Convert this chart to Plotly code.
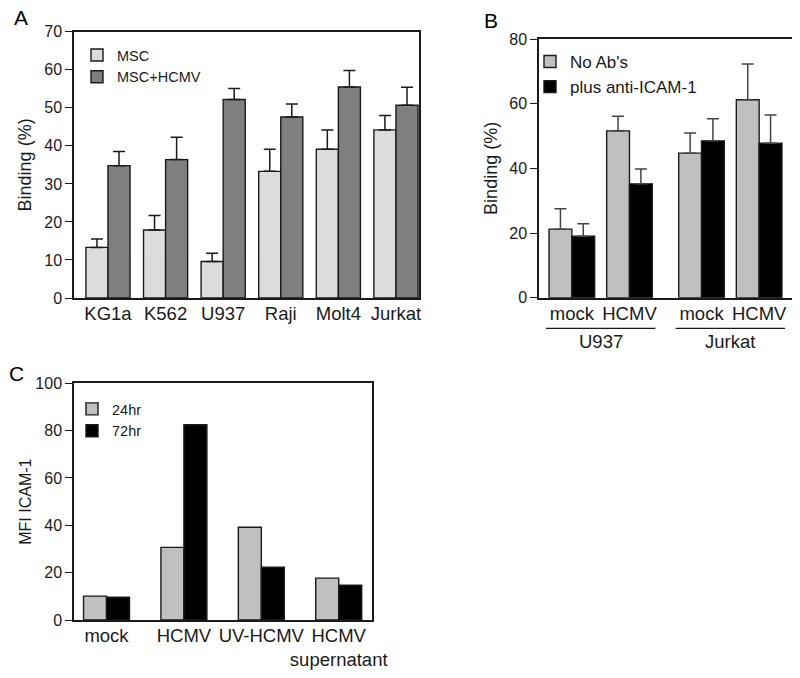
import plotly.graph_objects as go

W, H = 800, 678
OFF = 8  # the page body margin shifts the figure by this many pixels

# ---------------- data ----------------
# Panel A
a_cells = ["KG1a", "K562", "U937", "Raji", "Molt4", "Jurkat"]
a_msc = [13.3, 17.9, 9.6, 33.3, 39.1, 44.2]
a_msc_err = [2.2, 3.8, 2.2, 5.8, 5.1, 3.8]
a_hcmv = [34.8, 36.4, 52.2, 47.6, 55.5, 50.7]
a_hcmv_err = [3.7, 5.9, 2.9, 3.4, 4.3, 4.7]
a_yticks = [0, 10, 20, 30, 40, 50, 60, 70]

# Panel B
b_cells = ["U937", "Jurkat"]
b_conditions = ["mock", "HCMV"]
b_noab = [21.2, 51.6, 44.7, 61.2]
b_noab_err = [6.3, 4.5, 6.2, 11.1]
b_anti = [19.0, 35.2, 48.5, 47.8]
b_anti_err = [3.9, 4.6, 6.8, 8.7]
b_yticks = [0, 20, 40, 60, 80]

# Panel C
c_treatments = ["mock", "HCMV", "UV-HCMV", "HCMV<br>supernatant"]
c_24hr = [10.1, 30.7, 39.2, 17.7]
c_72hr = [9.6, 82.5, 22.3, 14.7]
c_yticks = [0, 20, 40, 60, 80, 100]

# ---------------- styling helpers ----------------
FONT = "Liberation Sans, Arial, Helvetica, sans-serif"
INK = "#1a1a1a"


def px_x(x):
    return (x - OFF) / W


def px_y(y):
    return 1 - (y - OFF) / H


fig = go.Figure()

# ---- Panel A ----
wa = 0.383
fig.add_trace(go.Bar(
    x=a_cells, y=a_msc, name="MSC", xaxis="x", yaxis="y",
    width=wa, offset=-wa,
    marker=dict(color="#dcdcdc", line=dict(color=INK, width=1.4)),
    error_y=dict(type="data", symmetric=False, array=a_msc_err,
                 arrayminus=[0] * len(a_msc), color=INK, thickness=1.5, width=6),
    legend="legend",
))
fig.add_trace(go.Bar(
    x=a_cells, y=a_hcmv, name="MSC+HCMV", xaxis="x", yaxis="y",
    width=wa, offset=0,
    marker=dict(color="#7f7f7f", line=dict(color=INK, width=1.4)),
    error_y=dict(type="data", symmetric=False, array=a_hcmv_err,
                 arrayminus=[0] * len(a_hcmv), color=INK, thickness=1.5, width=6),
    legend="legend",
))

# ---- Panel B ----
b_gap = 0.25
b_pos = [ci * (len(b_conditions) + b_gap) + k
         for ci in range(len(b_cells)) for k in range(len(b_conditions))]
b_ticktext = [c for _ in b_cells for c in b_conditions]
wb = 0.396
fig.add_trace(go.Bar(
    x=b_pos, y=b_noab, name="No Ab's", xaxis="x2", yaxis="y2",
    width=wb, offset=-wb,
    marker=dict(color="#c0c0c0", line=dict(color=INK, width=1.4)),
    error_y=dict(type="data", symmetric=False, array=b_noab_err,
                 arrayminus=[0] * len(b_noab), color="#444444", thickness=1.5, width=6),
    legend="legend2",
))
fig.add_trace(go.Bar(
    x=b_pos, y=b_anti, name="plus anti-ICAM-1", xaxis="x2", yaxis="y2",
    width=wb, offset=0,
    marker=dict(color="#000000", line=dict(color=INK, width=1.4)),
    error_y=dict(type="data", symmetric=False, array=b_anti_err,
                 arrayminus=[0] * len(b_anti), color="#444444", thickness=1.5, width=6),
    legend="legend2",
))

# ---- Panel C ----
wc = 0.297
fig.add_trace(go.Bar(
    x=c_treatments, y=c_24hr, name="24hr", xaxis="x3", yaxis="y3",
    width=wc, offset=-wc,
    marker=dict(color="#c0c0c0", line=dict(color=INK, width=1.4)),
    legend="legend3",
))
fig.add_trace(go.Bar(
    x=c_treatments, y=c_72hr, name="72hr", xaxis="x3", yaxis="y3",
    width=wc, offset=0,
    marker=dict(color="#000000", line=dict(color=INK, width=1.4)),
    legend="legend3",
))

# ---------------- axes ----------------
common_x = dict(showline=True, mirror=True, linecolor=INK, linewidth=1.5,
                ticks="", showgrid=False, zeroline=False, automargin=False,
                tickangle=0, ticklabelstandoff=-2,
                tickfont=dict(size=18.5, color=INK, family=FONT))
common_y = dict(showline=True, mirror=True, linecolor=INK, linewidth=1.5,
                ticks="outside", ticklen=7, tickwidth=1.3, tickcolor=INK,
                showgrid=False, zeroline=False, automargin=False,
                tickfont=dict(size=16, color=INK, family=FONT))

fig.update_layout(
    xaxis=dict(common_x, domain=[px_x(74), px_x(419)], anchor="y",
               range=[-0.59, 5.40], type="category"),
    yaxis=dict(common_y, domain=[px_y(298), px_y(31.8)], anchor="x",
               range=[0, 70], tickvals=a_yticks,
               title=dict(text="Binding (%)", font=dict(size=18, color=INK, family=FONT),
                          standoff=8)),
    xaxis2=dict(common_x, domain=[px_x(539), px_x(792)], anchor="y2",
                range=[-0.57, 3.82], tickvals=b_pos, ticktext=b_ticktext),
    yaxis2=dict(common_y, domain=[px_y(297.7), px_y(39)], anchor="x2",
                range=[0, 80], tickvals=b_yticks,
                title=dict(text="Binding (%)", font=dict(size=18, color=INK, family=FONT),
                           standoff=7)),
    xaxis3=dict(common_x, domain=[px_x(74), px_x(372)], anchor="y3",
                range=[-0.42, 3.43], type="category"),
    yaxis3=dict(common_y, domain=[px_y(620), px_y(383.3)], anchor="x3",
                range=[0, 100], tickvals=c_yticks,
                title=dict(text="MFI ICAM-1", font=dict(size=16, color=INK, family=FONT),
                           standoff=0)),
)

# ---------------- legends ----------------
leg_common = dict(xanchor="left", yanchor="top", bgcolor="rgba(0,0,0,0)",
                  borderwidth=0, itemclick=False, itemdoubleclick=False)
fig.update_layout(
    legend=dict(leg_common, x=px_x(77), y=px_y(39),
                font=dict(size=14.5, color=INK, family=FONT)),
    legend2=dict(leg_common, x=px_x(530), y=px_y(44),
                 font=dict(size=17, color=INK, family=FONT)),
    legend3=dict(leg_common, x=px_x(72), y=px_y(393),
                 font=dict(size=14.5, color=INK, family=FONT)),
)

# ---------------- panel letters, group labels ----------------
annotations = []
for letter, lx, ly in [("A", 21, 17), ("B", 491, 20), ("C", 16, 373)]:
    annotations.append(dict(text=letter, x=px_x(lx), y=px_y(ly), xref="paper", yref="paper",
                            xanchor="center", yanchor="middle", showarrow=False,
                            font=dict(size=21, color="#000", family=FONT)))

shapes = []
n_cond = len(b_conditions)
for ci, cell in enumerate(b_cells):
    group = b_pos[ci * n_cond:(ci + 1) * n_cond]
    shapes.append(dict(type="line", xref="x2", yref="paper",
                       x0=group[0] - 0.45, x1=group[-1] + 0.45,
                       y0=px_y(328.3), y1=px_y(328.3),
                       line=dict(color=INK, width=1.3)))
    annotations.append(dict(text=cell, x=sum(group) / len(group), y=px_y(341),
                            xref="x2", yref="paper", xanchor="center", yanchor="middle",
                            showarrow=False, font=dict(size=18.5, color=INK, family=FONT)))

fig.update_layout(
    template="none",
    annotations=annotations,
    shapes=shapes,
    barmode="overlay",
    width=W, height=H,
    margin=dict(l=0, r=0, t=0, b=0),
    paper_bgcolor="white",
    plot_bgcolor="white",
    font=dict(family=FONT, color=INK),
)

fig.write_html("out.html")
